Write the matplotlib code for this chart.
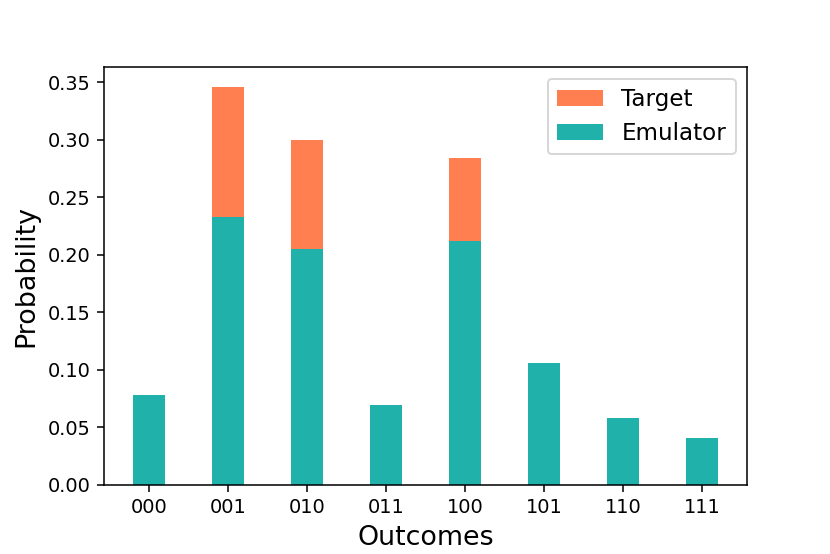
import matplotlib
matplotlib.use("Agg")
import matplotlib.pyplot as plt
import numpy as np

outcomes = ["000", "001", "010", "011", "100", "101", "110", "111"]
target = [0.0, 0.346, 0.300, 0.0, 0.284, 0.0, 0.0, 0.0]
emulator = [0.078, 0.233, 0.205, 0.069, 0.212, 0.106, 0.058, 0.041]

fig = plt.figure(figsize=(6, 4.005), dpi=138.34)
ax = fig.add_axes([0.125, 0.125, 0.775, 0.754])
x = np.arange(len(outcomes))
ax.bar(x, target, width=0.4, color="coral", label="Target")
ax.bar(x, emulator, width=0.4, color="lightseagreen", label="Emulator")
ax.set_xticks(x)
ax.set_xticklabels(outcomes)
ax.set_xlabel("Outcomes", fontsize=14)
ax.set_ylabel("Probability", fontsize=14)
ax.legend(fontsize=12, loc="upper right")
fig.savefig("out.png", dpi=138.34)
